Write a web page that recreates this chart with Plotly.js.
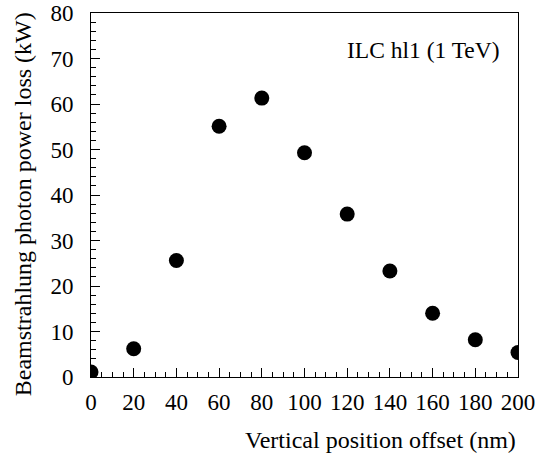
<!DOCTYPE html>
<html>
<head>
<meta charset="utf-8">
<script src="https://cdn.plot.ly/plotly-3.0.1.min.js"></script>
<style>html,body{margin:0;padding:0;background:#fff;}#chart{width:538px;height:458px;}</style>
</head>
<body>
<div id="chart"></div>
<script>
const offsets = [0, 20, 40, 60, 80, 100, 120, 140, 160, 180, 200];
const powerLoss = [1.1, 6.2, 25.6, 55.1, 61.3, 49.3, 35.8, 23.3, 14.0, 8.2, 5.4];
const xTitle = "Vertical position offset (nm)";
const yTitle = "Beamstrahlung photon power loss (kW)";
const label = "ILC hl1 (1 TeV)";

const font = {family: "Liberation Serif", size: 24, color: "#000"};
const labelFont = {family: "Liberation Serif", size: 23.5, color: "#000"};
const tickFont = {family: "Liberation Serif", size: 23, color: "#000"};

Plotly.newPlot("chart", [{
  x: offsets, y: powerLoss, type: "scatter", mode: "markers",
  marker: {color: "#000", size: 15, line: {width: 0}},
  cliponaxis: true, showlegend: false
}], {
  width: 538, height: 458,
  margin: {l: 91, r: 20, t: 13, b: 81},
  paper_bgcolor: "#fff", plot_bgcolor: "#fff",
  font: font,
  xaxis: {
    range: [0, 200], dtick: 20, tick0: 0, ticks: "inside", ticklen: 9, tickwidth: 1, tickcolor: "#000",
    minor: {dtick: 5, ticks: "inside", ticklen: 5, tickwidth: 1, tickcolor: "#000"},
    showline: true, linecolor: "#000", linewidth: 1, mirror: true,
    showgrid: false, zeroline: false, tickfont: tickFont, ticklabelstandoff: 4, fixedrange: true
  },
  yaxis: {
    range: [0, 80], dtick: 10, tick0: 0, ticks: "inside", ticklen: 9, tickwidth: 1, tickcolor: "#000",
    minor: {dtick: 2, ticks: "inside", ticklen: 5, tickwidth: 1, tickcolor: "#000"},
    showline: true, linecolor: "#000", linewidth: 1, mirror: true,
    showgrid: false, zeroline: false, tickfont: tickFont, ticklabelstandoff: 12, fixedrange: true
  },
  annotations: [
    {text: xTitle, xref: "paper", yref: "paper", x: 1, y: -0.174, xanchor: "right", yanchor: "middle", showarrow: false, font: font},
    {text: yTitle, xref: "paper", yref: "paper", x: -0.159, y: 0.475, xanchor: "center", yanchor: "middle", textangle: -90, showarrow: false, font: font},
    {text: label, xref: "paper", yref: "paper", x: 0.9626, y: 0.898, xanchor: "right", yanchor: "middle", showarrow: false, font: labelFont}
  ]
}, {staticPlot: true, displayModeBar: false});
</script>
</body>
</html>
